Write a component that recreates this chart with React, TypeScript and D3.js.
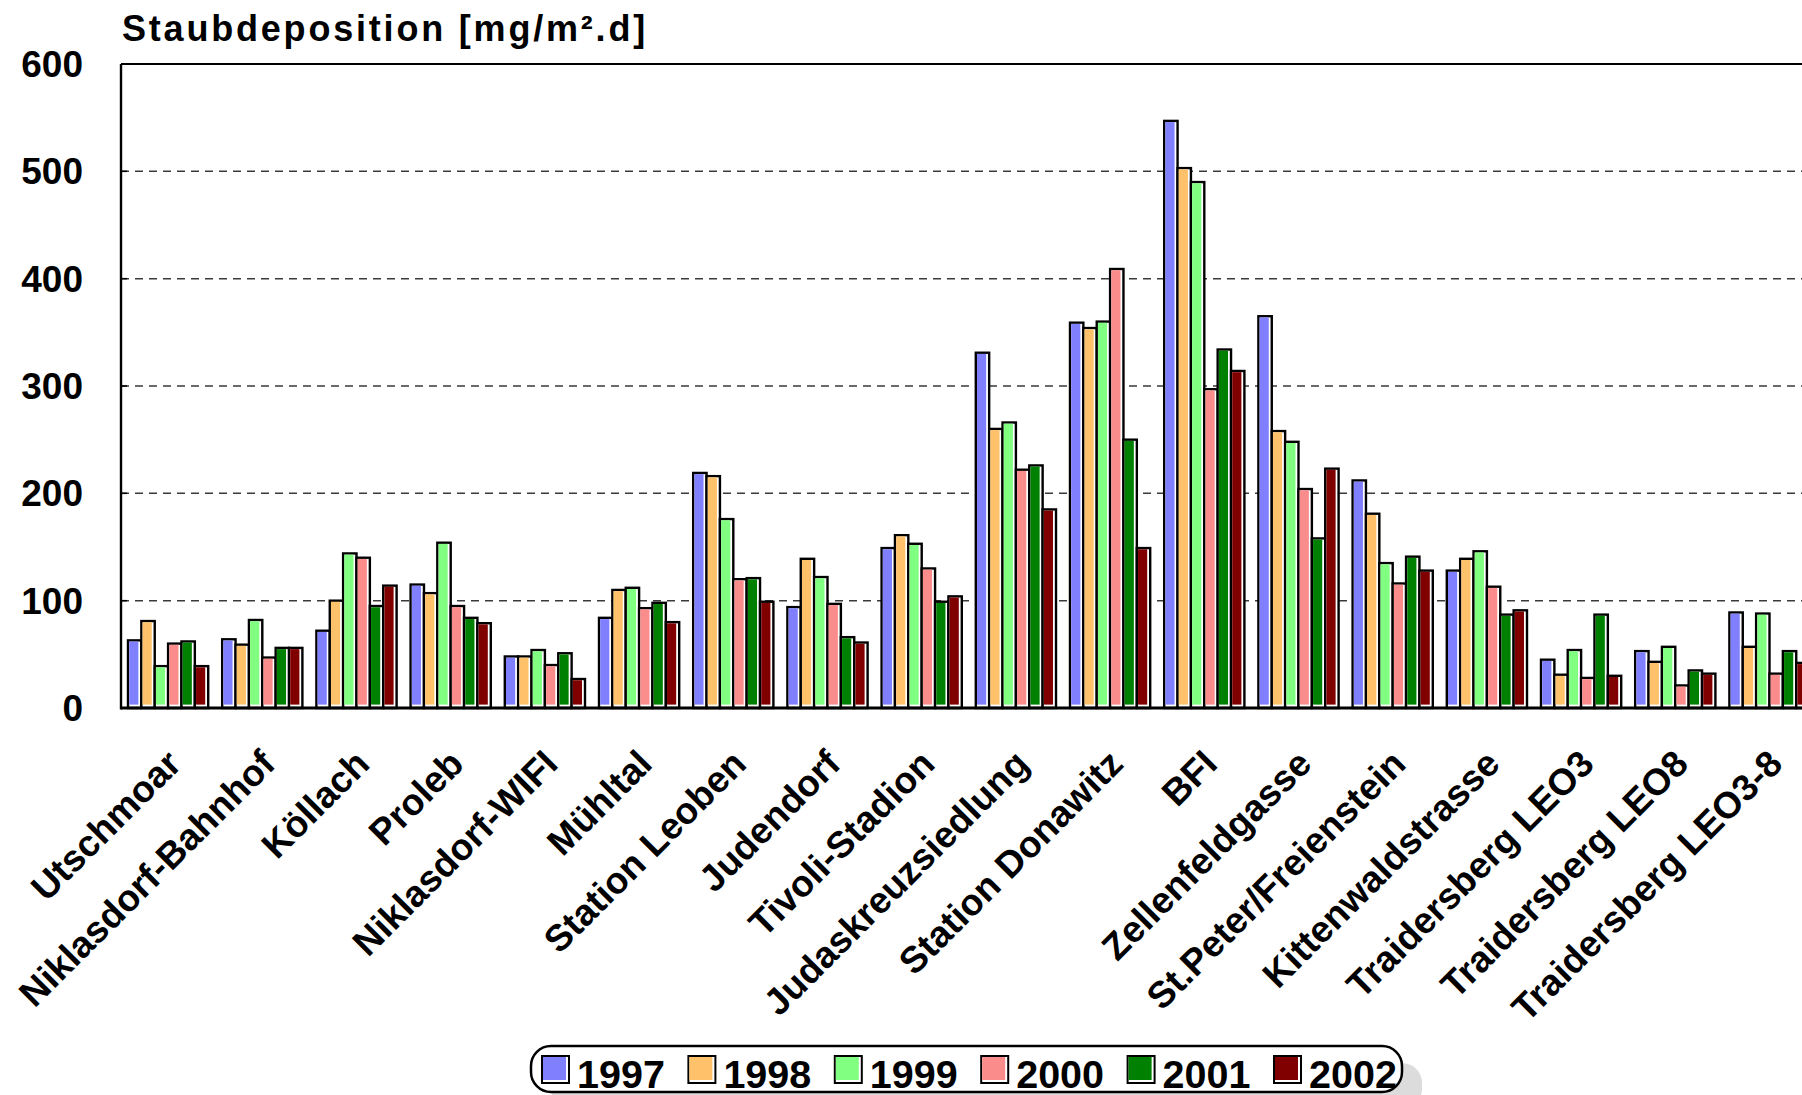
import React from 'react';
import * as d3 from 'd3';

// Measuring stations (categories)
const stations = [
  'Utschmoar', 'Niklasdorf-Bahnhof', 'Köllach', 'Proleb', 'Niklasdorf-WIFI', 'Mühltal',
  'Station Leoben', 'Judendorf', 'Tivoli-Stadion', 'Judaskreuzsiedlung', 'Station Donawitz',
  'BFI', 'Zellenfeldgasse', 'St.Peter/Freienstein', 'Kittenwaldstrasse',
  'Traidersberg LEO3', 'Traidersberg LEO8', 'Traidersberg LEO3-8',
];

const years = ['1997', '1998', '1999', '2000', '2001', '2002'];

// Dust deposition per station, mg/m².d
const v1997 = [63, 64, 72, 115, 48, 84, 219, 94, 149, 331, 359, 547, 365, 212, 128, 45, 53, 89];
const v1998 = [81, 59, 100, 107, 48, 110, 216, 139, 161, 260, 354, 503, 258, 181, 139, 31, 43, 57];
const v1999 = [39, 82, 144, 154, 54, 112, 176, 122, 153, 266, 360, 490, 248, 135, 146, 54, 57, 88];
const v2000 = [60, 47, 140, 95, 40, 93, 120, 97, 130, 222, 409, 297, 204, 116, 113, 28, 21, 32];
const v2001 = [62, 56, 95, 84, 51, 98, 121, 66, 99, 226, 250, 334, 158, 141, 87, 87, 35, 53];
const v2002 = [39, 56, 114, 79, 27, 80, 99, 61, 104, 185, 149, 314, 223, 128, 91, 30, 32, 42];

const yTicks = [0, 100, 200, 300, 400, 500, 600];

const seriesColors = ['#8080FF', '#FFC26B', '#80FF80', '#FA8C8C', '#008000', '#800000'];

const series = [v1997, v1998, v1999, v2000, v2001, v2002];

const W = 1802;
const H = 1095;
const FONT = '"Liberation Sans", Arial, Helvetica, sans-serif';

export default function App() {
  const left = 121;
  const top = 64;
  const base = 708;
  const step = 94.2;

  const y = d3.scaleLinear().domain([0, 600]).range([base, top]);
  const x = d3
    .scaleBand<string>()
    .domain(stations)
    .range([left, left + step * stations.length])
    .paddingInner(0.1486)
    .paddingOuter(0.0743);
  const xi = d3.scaleBand<string>().domain(years).range([0, x.bandwidth()]);
  const bw = xi.bandwidth();

  const legendX = 531;
  const legendY = 1046;
  const legendW = 871;
  const legendH = 46;
  const legendStep = 146.4;

  return (
    <svg
      width={W}
      height={H}
      style={{ position: 'absolute', left: 0, top: 0, background: '#fff' }}
      fontFamily={FONT}
    >
      <rect x={0} y={0} width={W} height={H} fill="#fff" />

      {/* title */}
      <text x={122} y={41} fontSize={36} fontWeight="bold" letterSpacing={2.8} fill="#000">
        Staubdeposition [mg/m².d]
      </text>

      {/* dashed gridlines */}
      {yTicks
        .filter((t) => t > 0 && t < 600)
        .map((t) => (
          <line
            key={'g' + t}
            x1={left}
            x2={W}
            y1={y(t)}
            y2={y(t)}
            stroke="#3a3a3a"
            strokeWidth={1.5}
            strokeDasharray="8,6"
          />
        ))}

      {/* tick labels and tick marks */}
      {yTicks.map((t) => (
        <g key={'t' + t}>
          <line x1={left} x2={left + 6} y1={y(t)} y2={y(t)} stroke="#000" strokeWidth={1.5} />
          <text
            x={83}
            y={y(t) + 13}
            textAnchor="end"
            fontSize={37}
            fontWeight="bold"
            fill="#000"
          >
            {t}
          </text>
        </g>
      ))}

      {/* bars */}
      {stations.map((s, i) => (
        <g key={s}>
          {years.map((yr, k) => {
            const v = series[k][i];
            const bx = (x(s) as number) + (xi(yr) as number);
            const by = y(v);
            const h = base - by;
            return (
              <g key={yr}>
                <rect x={bx} y={by} width={bw} height={h} fill="#fff" stroke="#000" strokeWidth={2.4} />
                <rect
                  x={bx + 1.2}
                  y={by + 1.2}
                  width={Math.max(0, bw - 2.4 - 1.8)}
                  height={Math.max(0, h - 1.2 - 3.4)}
                  fill={seriesColors[k]}
                />
              </g>
            );
          })}
        </g>
      ))}

      {/* frame: left axis, top border, baseline */}
      <line x1={left} x2={left} y1={top} y2={base + 1.5} stroke="#000" strokeWidth={2.4} />
      <line x1={left} x2={W} y1={top} y2={top} stroke="#000" strokeWidth={2.2} />
      <line x1={left} x2={W} y1={base} y2={base} stroke="#000" strokeWidth={3} />

      {/* category labels */}
      {stations.map((s) => {
        const cx = (x(s) as number) + x.bandwidth() / 2;
        const ax = cx + 15;
        const ay = base + 58;
        return (
          <text
            key={'l' + s}
            x={ax}
            y={ay}
            transform={`rotate(-45 ${ax} ${ay})`}
            textAnchor="end"
            fontSize={37}
            fontWeight="bold"
            fill="#000"
          >
            {s}
          </text>
        );
      })}

      {/* legend */}
      <rect
        x={legendX + 20}
        y={legendY + 17}
        width={legendW}
        height={legendH}
        rx={20}
        fill="#dcdcdc"
      />
      <rect
        x={legendX}
        y={legendY}
        width={legendW}
        height={legendH}
        rx={20}
        fill="#fff"
        stroke="#000"
        strokeWidth={2.5}
      />
      {years.map((yr, k) => {
        const sx = legendX + 11 + k * legendStep;
        const sy = legendY + 10;
        const sz = 27;
        return (
          <g key={'lg' + yr}>
            <rect x={sx} y={sy} width={sz} height={sz} fill="#fff" stroke="#000" strokeWidth={2} />
            <rect x={sx + 1} y={sy + 1} width={sz - 4} height={sz - 4} fill={seriesColors[k]} />
            <text x={sx + 35} y={legendY + 42} fontSize={39.5} fontWeight="bold" fill="#000">
              {yr}
            </text>
          </g>
        );
      })}
    </svg>
  );
}
